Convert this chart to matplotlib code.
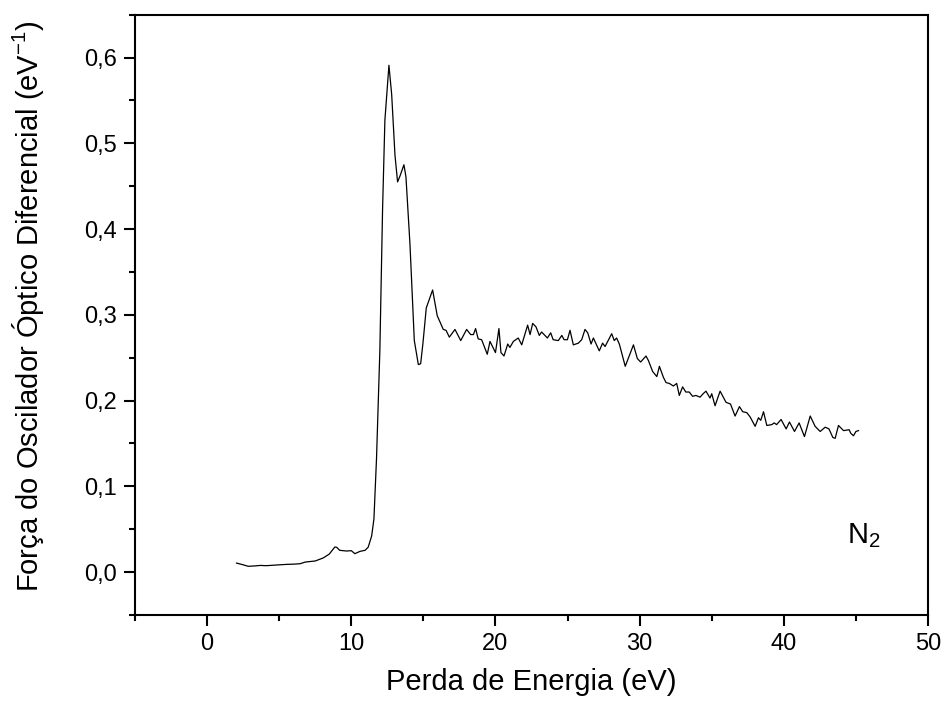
import numpy as np
import matplotlib
matplotlib.use("Agg")
import matplotlib.pyplot as plt
from matplotlib.ticker import MultipleLocator, FuncFormatter

plt.rcParams['font.family'] = ['Liberation Sans', 'DejaVu Sans']
plt.rcParams['mathtext.fontset'] = 'custom'
plt.rcParams['mathtext.rm'] = 'Liberation Sans'
plt.rcParams['mathtext.it'] = 'Liberation Sans:italic'

# --- dados ---
energia = [2.04, 2.4, 2.85, 3.3, 3.7, 4.1, 4.5, 5.0, 5.5, 6.0, 6.45, 6.8, 7.2, 7.5,
           8.05, 8.47, 8.86, 8.98, 9.2, 9.67, 10.0, 10.25, 10.6, 10.95, 11.17, 11.41,
           11.57, 11.75, 11.98, 12.17, 12.33, 12.61, 12.8, 13.03, 13.21, 13.38, 13.65,
           13.79, 14.07, 14.37, 14.65, 14.81, 14.97, 15.2, 15.64, 15.96, 16.2, 16.38,
           16.57, 16.8, 17.19, 17.59, 18.0, 18.28, 18.47, 18.62, 18.8, 19.04, 19.43,
           19.62, 20.0, 20.24, 20.38, 20.59, 20.85, 21.0, 21.24, 21.58, 21.82, 22.23,
           22.4, 22.58, 22.81, 23.04, 23.2, 23.6, 23.83, 24.0, 24.36, 24.6, 24.76,
           24.99, 25.17, 25.4, 25.75, 25.98, 26.21, 26.4, 26.63, 26.79, 27.2, 27.43,
           27.6, 28.06, 28.24, 28.4, 28.59, 29.0, 29.57, 29.84, 30.07, 30.44, 30.6,
           30.9, 31.19, 31.37, 31.65, 31.83, 32.06, 32.34, 32.57, 32.75, 32.98, 33.2,
           33.44, 33.67, 33.9, 34.19, 34.4, 34.6, 34.88, 35.0, 35.23, 35.58, 35.99,
           36.3, 36.62, 36.92, 37.15, 37.43, 37.66, 38.01, 38.24, 38.4, 38.59, 38.82,
           39.17, 39.33, 39.5, 39.81, 40.16, 40.39, 40.74, 41.06, 41.43, 41.83, 42.17,
           42.52, 42.87, 43.13, 43.4, 43.56, 43.79, 44.14, 44.53, 44.64, 44.83, 45.0,
           45.18]
forca = [0.0105, 0.009, 0.0068, 0.0072, 0.0078, 0.0075, 0.008, 0.0085, 0.009, 0.0093,
         0.0098, 0.0117, 0.0125, 0.013, 0.0165, 0.021, 0.0293, 0.029, 0.0254, 0.0246,
         0.025, 0.0215, 0.0242, 0.0254, 0.029, 0.042, 0.062, 0.133, 0.258, 0.424, 0.527,
         0.591, 0.557, 0.486, 0.455, 0.462, 0.475, 0.461, 0.382, 0.27, 0.242, 0.243,
         0.267, 0.308, 0.329, 0.299, 0.29, 0.283, 0.282, 0.274, 0.283, 0.270, 0.283,
         0.277, 0.277, 0.284, 0.272, 0.271, 0.254, 0.269, 0.256, 0.284, 0.256, 0.252,
         0.266, 0.262, 0.269, 0.273, 0.265, 0.288, 0.277, 0.29, 0.286, 0.276, 0.28,
         0.273, 0.279, 0.271, 0.27, 0.276, 0.271, 0.271, 0.282, 0.265, 0.267, 0.271,
         0.283, 0.279, 0.266, 0.273, 0.258, 0.267, 0.263, 0.278, 0.27, 0.273, 0.266,
         0.24, 0.265, 0.249, 0.245, 0.252, 0.247, 0.234, 0.228, 0.24, 0.227, 0.221,
         0.22, 0.217, 0.22, 0.206, 0.216, 0.21, 0.21, 0.205, 0.206, 0.204, 0.208, 0.211,
         0.203, 0.208, 0.194, 0.211, 0.198, 0.196, 0.182, 0.193, 0.187, 0.186, 0.181,
         0.17, 0.18, 0.177, 0.187, 0.171, 0.172, 0.174, 0.172, 0.178, 0.167, 0.175,
         0.164, 0.174, 0.158, 0.182, 0.17, 0.164, 0.169, 0.167, 0.157, 0.156, 0.171,
         0.165, 0.166, 0.162, 0.159, 0.164, 0.165]

# --- figura ---
fig = plt.figure(figsize=(9.43, 7.06), dpi=100)
ax = fig.add_axes([0.1432, 0.1289, 0.8409, 0.8503])

ax.plot(energia, forca, color='black', linewidth=0.9)

ax.set_xlim(-5, 50)
ax.set_ylim(-0.05, 0.65)

ax.xaxis.set_major_locator(MultipleLocator(10))
ax.xaxis.set_minor_locator(MultipleLocator(5))
ax.yaxis.set_major_locator(MultipleLocator(0.1))
ax.yaxis.set_minor_locator(MultipleLocator(0.05))
ax.yaxis.set_major_formatter(FuncFormatter(lambda v, p: f'{v:.1f}'.replace('.', ',')))

ax.tick_params(which='both', direction='out', top=False, right=False, width=1.5)
ax.tick_params(which='major', length=8, labelsize=17, pad=5)
ax.tick_params(which='minor', length=4.5)
for s in ax.spines.values():
    s.set_linewidth(1.5)

ax.set_xlabel('Perda de Energia (eV)', fontsize=21, labelpad=9)
ax.set_ylabel(r'Força do Oscilador Óptico Diferencial (eV$^{\mathrm{-1}}$)', fontsize=21)
ax.yaxis.set_label_coords(-0.112, 0.515)

ax.text(44.4, 0.0336, r'N$_\mathrm{2}$', fontsize=21)

fig.savefig('out.png', dpi=100)
